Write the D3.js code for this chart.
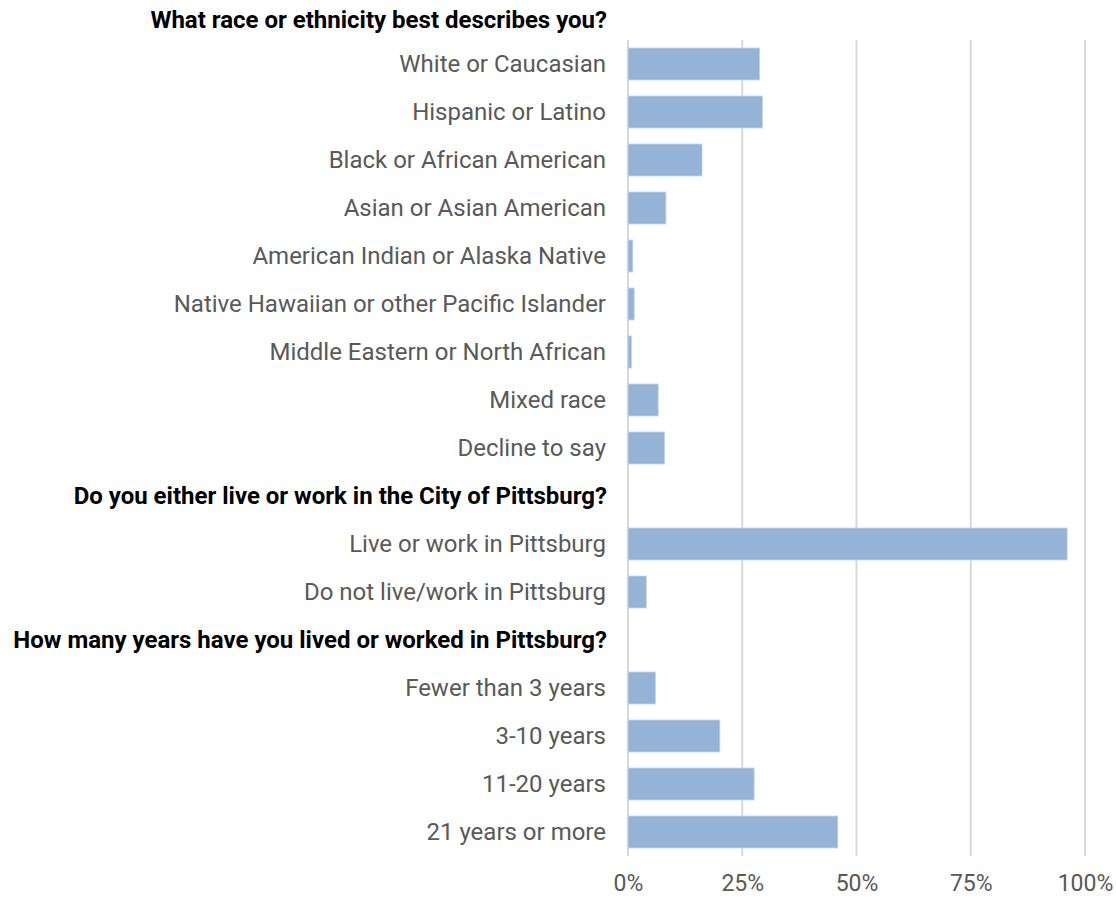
<!DOCTYPE html>
<html>
<head>
<meta charset="utf-8">
<script src="https://cdn.jsdelivr.net/npm/d3@7"></script>
<style>
  html, body { margin: 0; padding: 0; background: #fff; }
  svg { display: block; }
  text { font-family: Roboto, "Noto Sans", sans-serif; }
</style>
</head>
<body>
<svg id="chart" width="1116" height="898"></svg>
<script>
// Survey demographics: share of respondents per answer (percent)
const titleQuestion = "What race or ethnicity best describes you?";

const rowLabels = [
  "White or Caucasian",
  "Hispanic or Latino",
  "Black or African American",
  "Asian or Asian American",
  "American Indian or Alaska Native",
  "Native Hawaiian or other Pacific Islander",
  "Middle Eastern or North African",
  "Mixed race",
  "Decline to say",
  "Do you either live or work in the City of Pittsburg?",
  "Live or work in Pittsburg",
  "Do not live/work in Pittsburg",
  "How many years have you lived or worked in Pittsburg?",
  "Fewer than 3 years",
  "3-10 years",
  "11-20 years",
  "21 years or more"
];

// null marks a question heading row (no bar)
const rowValues = [
  28.8, 29.4, 16.2, 8.3, 1.05, 1.35, 0.75, 6.6, 8.0,
  null,
  96.1, 4.0,
  null,
  6.0, 20.1, 27.6, 45.9
];

const tickValues = [0, 25, 50, 75, 100];

const rows = rowLabels.map((label, i) => ({ label, value: rowValues[i], heading: rowValues[i] === null }));

const svg = d3.select("#chart");
const margin = { top: 40, left: 628, right: 31, bottom: 42 };
const width = 1116, height = 898;

const x = d3.scaleLinear().domain([0, 100]).range([margin.left, width - margin.right]);
const y = d3.scaleBand()
  .domain(d3.range(rows.length))
  .range([margin.top, height - margin.bottom])
  .paddingInner(1 / 3)
  .paddingOuter(1 / 6);

// vertical gridlines
svg.append("g")
  .selectAll("line")
  .data(tickValues)
  .join("line")
  .attr("x1", d => x(d)).attr("x2", d => x(d))
  .attr("y1", margin.top).attr("y2", height - margin.bottom)
  .attr("stroke", "#d9d9d9")
  .attr("stroke-width", 2);

// bars
svg.append("g")
  .selectAll("rect")
  .data(rows.map((r, i) => ({ ...r, i })).filter(r => !r.heading))
  .join("rect")
  .attr("x", x(0))
  .attr("y", d => y(d.i))
  .attr("width", d => x(d.value) - x(0))
  .attr("height", y.bandwidth())
  .attr("fill", "#95b3d7")
  .attr("stroke", "#c3d4ea")
  .attr("stroke-width", 0.8);

// x axis labels
const xAxis = d3.axisBottom(x)
  .tickValues(tickValues)
  .tickFormat(d => d + "%")
  .tickSize(0)
  .tickPadding(19);

const gx = svg.append("g")
  .attr("transform", `translate(0,${height - margin.bottom})`)
  .call(xAxis);
gx.select(".domain").remove();
gx.selectAll("text")
  .attr("font-size", 23)
  .attr("fill", "#595959")
  .style("font-family", "Roboto, sans-serif");

// category and heading labels
const yAxis = d3.axisLeft(y)
  .tickFormat(i => rows[i].label)
  .tickSize(0)
  .tickPadding(22);

const gy = svg.append("g")
  .attr("transform", `translate(${margin.left},0)`)
  .call(yAxis);
gy.select(".domain").remove();
gy.selectAll("text")
  .attr("font-size", 24)
  .style("font-family", "Roboto, sans-serif")
  .attr("fill", i => rows[i].heading ? "#000" : "#595959")
  .attr("font-weight", i => rows[i].heading ? "bold" : "normal")
  .attr("dx", i => rows[i].heading ? 1 : 0);

// first question heading sits above the plot area
svg.append("text")
  .attr("x", margin.left - 21)
  .attr("y", 20)
  .attr("dy", "0.32em")
  .attr("text-anchor", "end")
  .attr("font-size", 24)
  .attr("font-weight", "bold")
  .attr("fill", "#000")
  .text(titleQuestion);
</script>
</body>
</html>
